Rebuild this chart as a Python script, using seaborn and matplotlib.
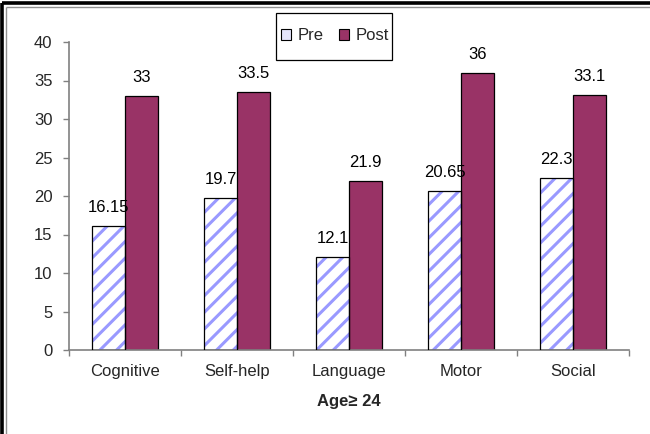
import matplotlib
matplotlib.use("Agg")
import matplotlib.pyplot as plt
from matplotlib.patches import Patch, Rectangle
from matplotlib.lines import Line2D
import pandas as pd
import seaborn as sns

# Developmental domain scores, pre vs post intervention (age >= 24)
domains = ["Cognitive", "Self-help", "Language", "Motor", "Social"]
pre_scores = [16.15, 19.7, 12.1, 20.65, 22.3]
post_scores = [33, 33.5, 21.9, 36, 33.1]
phases = ["Pre", "Post"]
y_ticks = [0, 5, 10, 15, 20, 25, 30, 35, 40]

df = pd.DataFrame({
    "domain": domains * 2,
    "score": pre_scores + post_scores,
    "phase": ["Pre"] * len(domains) + ["Post"] * len(domains),
})

sns.set_theme(style="white")
plt.rcParams["font.family"] = ["Liberation Sans", "DejaVu Sans"]
plt.rcParams["hatch.linewidth"] = 2.2

FS = 12
W, H = 650, 434
fig = plt.figure(figsize=(W / 100, H / 100), dpi=100)
fig.patch.set_facecolor("white")
ax = fig.add_axes([69 / W, 1 - 350 / H, (629 - 69) / W, (350 - 42) / H])

post_color = "#993366"
stripe_color = "#9999ff"

sns.barplot(data=df, x="domain", y="score", hue="phase", order=domains,
            hue_order=phases, palette={"Pre": "white", "Post": post_color},
            width=0.59, gap=0, saturation=1, edgecolor="black", linewidth=0.9,
            errorbar=None, legend=False, ax=ax)

# striped fill for the "Pre" bars, with a black outline drawn on top
for bar in ax.containers[0]:
    bar.set_hatch("//")
    bar.set_edgecolor(stripe_color)
    bar.set_linewidth(0)
    ax.add_patch(Rectangle(bar.get_xy(), bar.get_width(), bar.get_height(),
                           fill=False, edgecolor="black", linewidth=0.9, zorder=3))

# value labels above each bar
for cont in ax.containers:
    for bar in cont:
        v = bar.get_height()
        ax.annotate(f"{v:g}", (bar.get_x() + bar.get_width() / 2, v),
                    xytext=(0, 10), textcoords="offset points",
                    ha="center", va="baseline", fontsize=FS, color="black")

ax.set_ylim(0, 40)
ax.set_xlim(-0.5, len(domains) - 0.5)
ax.set_yticks(y_ticks)
ax.set_yticklabels([str(t) for t in y_ticks], fontsize=FS)
ax.set_xticks([i - 0.5 for i in range(len(domains) + 1)])
ax.set_xticklabels([])
ax.set_xticks(range(len(domains)), minor=True)
ax.set_xticklabels(domains, minor=True, fontsize=FS)
ax.tick_params(axis="x", which="major", length=4, color="#808080", width=1,
               direction="out", bottom=True)
ax.tick_params(axis="x", which="minor", length=0, pad=10)
ax.tick_params(axis="y", length=4, color="#808080", width=1, direction="out",
               left=True, pad=8)

for s in ["top", "right"]:
    ax.spines[s].set_visible(False)
for s in ["left", "bottom"]:
    ax.spines[s].set_color("#808080")
    ax.spines[s].set_linewidth(1.2)

ax.set_xlabel("Age\u2265 24", fontsize=FS, fontweight="bold", labelpad=11)
ax.set_ylabel("")
ax.set_facecolor("white")
ax.grid(False)

# legend box
fig.add_artist(Rectangle((276 / W, 1 - 60 / H), (392 - 276) / W, (60 - 13) / H,
                         transform=fig.transFigure, fill=False,
                         edgecolor="black", linewidth=0.9))
handles = [Patch(facecolor="#e4e4fb", edgecolor="black", linewidth=0.8),
           Patch(facecolor=post_color, edgecolor="black", linewidth=0.8)]
fig.legend(handles, phases, loc="center", bbox_to_anchor=(335 / W, 1 - 36 / H),
           ncol=2, frameon=False, fontsize=FS, handlelength=0.6,
           handleheight=0.6, handletextpad=0.4, columnspacing=0.9,
           borderpad=0.2)

# double page frame along the top and left edges
for (pos, color, lw) in [(2.2, "black", 2.6), (5.6, "#909090", 1.0)]:
    fig.add_artist(Line2D([pos / W, pos / W], [0, 1 - (pos + 1.2) / H],
                          transform=fig.transFigure, color=color, linewidth=lw,
                          solid_capstyle="butt"))
    fig.add_artist(Line2D([pos / W, 1], [1 - (pos + 1.2) / H, 1 - (pos + 1.2) / H],
                          transform=fig.transFigure, color=color, linewidth=lw,
                          solid_capstyle="butt"))

fig.savefig("out.png", dpi=100, facecolor="white")
